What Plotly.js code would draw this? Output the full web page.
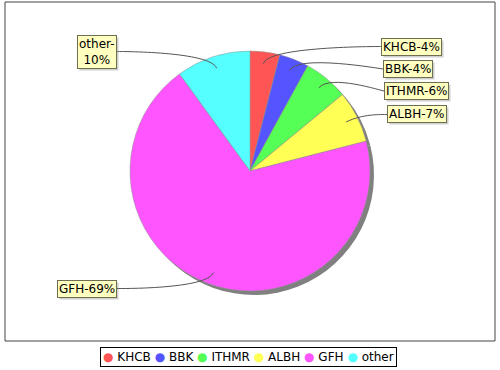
<!DOCTYPE html>
<html>
<head>
<meta charset="utf-8">
<script src="https://cdn.plot.ly/plotly-3.0.1.min.js"></script>
<style>html,body{margin:0;padding:0;background:#fff;}#chart{width:500px;height:370px;}</style>
</head>
<body>
<div id="chart"></div>
<script>
// ---- data ----
var categories = ["KHCB", "BBK", "ITHMR", "ALBH", "GFH", "other"];
var values = [4, 4, 6, 7, 69, 10];
var colors = ["#FF5555", "#5555FF", "#55FF55", "#FFFF55", "#FF55FF", "#55FFFF"];
var labelBreak = [false, false, false, false, false, true];
// label box anchor edges (pixels): x of the edge facing the pie, y of centre
var labelEdgeX = [381, 383, 384, 387, 117, 117];
var labelCenterY = [46.5, 69, 91, 114.5, 288.5, 51.5];

// ---- layout constants (pixels) ----
var W = 500, H = 370;
var cx = 250, cy = 171, R = 120;
var shadowOff = 4;
function px(x){ return x / W; }
function py(y){ return (H - y) / H; }

var domX = [px(cx - R), px(cx + R)];
var domY = [py(cy + R), py(cy - R)];

var total = values.reduce(function(a,b){return a+b;}, 0);

var traces = [
  { type: "pie", values: values, labels: categories, sort: false, direction: "clockwise",
    rotation: 0, marker: { colors: categories.map(function(){return "#808080";}) },
    textinfo: "none", hoverinfo: "none", showlegend: false,
    domain: { x: [domX[0] + shadowOff / W, domX[1] + shadowOff / W], y: [domY[0] - shadowOff / H, domY[1] - shadowOff / H] } },
  { type: "pie", values: values, labels: categories, sort: false, direction: "clockwise",
    rotation: 0, marker: { colors: colors, line: { color: "#909090", width: 0.5 } },
    textinfo: "none", hoverinfo: "none", showlegend: false,
    domain: { x: domX, y: domY } }
];

var shapes = [
  { type: "rect", xref: "paper", yref: "paper", x0: px(5), x1: px(495), y0: py(341), y1: py(2),
    line: { color: "#444444", width: 1 }, fillcolor: "rgba(0,0,0,0)", layer: "below" }
];
var annotations = [];

var cum = 0;
for (var i = 0; i < values.length; i++) {
  var midFrac = (cum + values[i] / 2) / total;
  cum += values[i];
  var theta = midFrac * 2 * Math.PI; // from top, clockwise
  var sx = Math.sin(theta), sy = -Math.cos(theta);
  var linkX = cx + sx * R * 0.9, linkY = cy + sy * R * 0.9;
  var elbowX = cx + sx * R * 1.05, elbowY = cy + sy * R * 1.05;
  var right = labelEdgeX[i] > cx;
  var anchorX = right ? cx + R * 1.1 : cx - R * 1.1;
  var tX = labelEdgeX[i], tY = labelCenterY[i];
  var path = "M " + px(tX) + "," + py(tY) +
    " C " + px(anchorX) + "," + py(tY) + " " + px(elbowX) + "," + py(elbowY) + " " + px(linkX) + "," + py(linkY);
  shapes.push({ type: "path", xref: "paper", yref: "paper", path: path,
    line: { color: "#555555", width: 1 } });

  var pct = Math.round(values[i] / total * 100);
  var txt = categories[i] + "-" + (labelBreak[i] ? "<br>" : "") + pct + "%";
  annotations.push({ xref: "paper", yref: "paper", showarrow: false, xanchor: right ? "left" : "right",
    yanchor: "middle", borderpad: 1, font: { family: "DejaVu Sans", size: 12, color: "#000" }, text: txt,
    x: px(tX), y: py(tY), bgcolor: "#FFFFC0", bordercolor: "#6E6E50", borderwidth: 1 });
}

// legend as a single bordered text box
var legendText = categories.map(function(c, i){
  return '<span style="color:' + colors[i] + '">●</span> ' + c;
}).join(" ");
annotations.push({ xref: "paper", yref: "paper", x: px(248), y: py(357), xanchor: "center", yanchor: "middle",
  showarrow: false, text: legendText, bgcolor: "#FFFFFF", bordercolor: "#000000", borderwidth: 1, borderpad: 2,
  font: { family: "DejaVu Sans", size: 12, color: "#000" } });

var layout = {
  width: W, height: H, margin: { l: 0, r: 0, t: 0, b: 0 },
  paper_bgcolor: "#FFFFFF", plot_bgcolor: "#FFFFFF",
  showlegend: false, shapes: shapes, annotations: annotations,
  font: { family: "DejaVu Sans" }
};
Plotly.newPlot("chart", traces, layout, { staticPlot: true, displayModeBar: false }).then(function(gd){
  // label box shadows, sized from the drawn label boxes
  var host = gd.getBoundingClientRect();
  var bgs = gd.querySelectorAll(".annotation rect.bg");
  var extra = [];
  for (var k = 0; k < values.length && k < bgs.length; k++) {
    var r = bgs[k].getBoundingClientRect();
    var x0 = r.left - host.left + 2, y0 = r.top - host.top + 2;
    extra.push({ type: "rect", xref: "paper", yref: "paper", layer: "below",
      x0: px(x0), x1: px(x0 + r.width), y0: py(y0 + r.height), y1: py(y0),
      line: { width: 0 }, fillcolor: "#D0D0D0" });
  }
  return Plotly.relayout(gd, { shapes: shapes.concat(extra) });
});
</script>
</body>
</html>
